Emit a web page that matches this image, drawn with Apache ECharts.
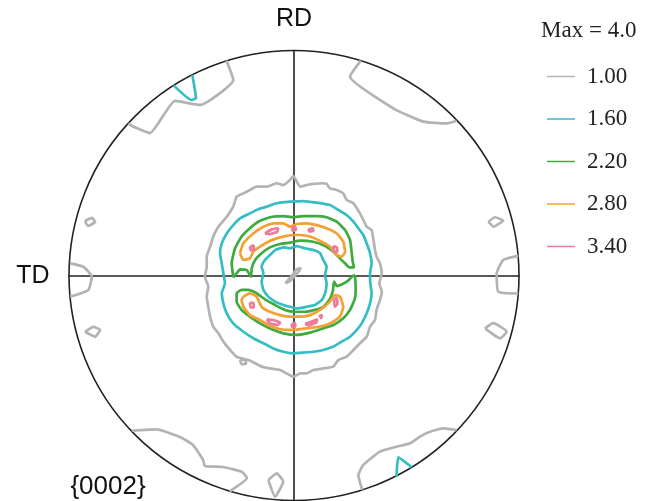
<!DOCTYPE html>
<html>
<head>
<meta charset="utf-8">
<script src="https://cdn.jsdelivr.net/npm/echarts@6/dist/echarts.min.js"></script>
<style>html,body{margin:0;padding:0;background:#fff}#c{width:655px;height:501px}</style>
</head>
<body>
<div id="c"></div>
<script>
// Pole figure {0002}; coordinates in projection units (circle radius = 100)
const levels = ['1.00', '1.60', '2.20', '2.80', '3.40'];
const maxLabel = 'Max = 4.0';
const figureLabel = '{0002}';
const axisNames = ['RD', 'TD'];

// level 1.00 (closed loops)
const g_center = [[-1.8,42.4],[-0.3,44.2],[0.9,42.4],[2.7,39.5],[5.6,40.2],[8.6,40.7],[12.3,41.0],[14.5,40.7],[16.0,38.7],[19.0,38.0],[21.9,36.5],[23.4,33.6],[26.4,32.1],[29.3,27.6],[30.8,24.7],[32.3,21.7],[34.5,20.2],[35.3,15.8],[36.0,11.3],[36.7,8.4],[38.2,5.4],[39.0,1.0],[37.9,-3.5],[39.0,-7.2],[38.2,-10.9],[36.7,-15.3],[36.0,-19.8],[33.8,-22.7],[32.3,-27.2],[29.3,-30.1],[26.4,-33.1],[23.4,-36.1],[19.7,-37.6],[17.5,-40.5],[13.0,-41.3],[8.6,-42.0],[5.6,-43.5],[2.7,-43.5],[-0.3,-45.0],[-3.3,-43.5],[-6.2,-42.0],[-10.7,-41.3],[-14.4,-40.5],[-17.3,-39.0],[-20.3,-37.6],[-25.5,-36.1],[-28.4,-33.1],[-31.4,-29.4],[-33.6,-25.7],[-35.9,-22.7],[-37.3,-18.3],[-38.1,-13.9],[-38.8,-9.4],[-38.1,-5.0],[-39.6,-0.5],[-38.8,3.9],[-38.8,8.4],[-37.3,12.8],[-35.9,17.3],[-33.6,21.7],[-29.9,26.1],[-27.0,30.6],[-25.5,35.0],[-22.5,36.5],[-19.6,38.0],[-16.6,39.5],[-12.1,39.5],[-7.7,41.0],[-4.7,40.2]];
const g_blob = [[-24.0,-37.6],[-21.8,-37.3],[-21.3,-39.1],[-23.3,-39.4]];
const g_slash = [[-3.8,-3.5],[-0.5,0.5],[1.0,2.6],[3.0,3.3],[2.2,2.0],[-1.5,-2.2]];
const g_d1 = [[86.4,23.9],[89.3,25.9],[93.0,24.4],[88.6,21.7]];
const g_d2 = [[84.9,-23.5],[88.6,-21.2],[94.5,-25.0],[91.6,-27.9]];
const g_d3 = [[-92.9,-25.0],[-89.2,-22.8],[-86.2,-24.2],[-88.4,-27.2]];
const g_d4 = [[-92.9,24.2],[-89.8,25.6],[-88.4,23.8],[-91.6,22.0]];
const g_d5 = [[-11.4,-90.9],[-7.7,-87.9],[-4.8,-91.6],[-8.4,-98.3]];
// level 1.00 (open arcs ending on the rim)
const g_tl = [[-30.0,95.4],[-27.0,86.9],[-41.8,75.8],[-52.9,77.6],[-64.0,63.3],[-72.0,66.4],[-73.6,67.6]];
const g_tr = [[29.7,95.5],[24.9,88.4],[44.1,74.3],[57.5,68.4],[67.9,67.6],[72.3,68.8]];
const g_r = [[99.7,8.7],[93.0,6.9],[90.1,1.0],[90.8,-7.2],[99.7,-8.0]];
const g_l = [[-99.6,5.4],[-93.6,3.9],[-89.9,-0.5],[-91.4,-6.4],[-99.5,-9.4]];
const g_bl = [[-72.1,-69.0],[-61.0,-68.4],[-50.7,-71.8],[-44.9,-75.3],[-40.4,-82.0],[-39.6,-84.7],[-31.6,-85.1],[-23.1,-87.3],[-20.9,-90.0],[-28.6,-95.9]];
const g_br = [[30.3,-95.3],[28.6,-88.7],[30.8,-84.2],[38.2,-78.3],[45.6,-76.1],[51.6,-74.6],[56.0,-71.6],[60.4,-69.4],[66.4,-67.9],[72.3,-68.7]];

// level 1.60
const c_outer = [[-12.1,30.6],[-7.7,32.1],[-1.8,32.8],[4.1,33.1],[10.1,32.4],[16.0,31.3],[19.7,29.1],[23.4,26.9],[26.4,23.9],[28.6,21.0],[30.8,18.0],[32.3,14.3],[33.8,9.9],[34.5,5.4],[33.8,1.0],[33.8,-2.0],[34.5,-7.9],[33.8,-12.4],[32.3,-16.8],[30.1,-21.3],[27.9,-24.2],[24.9,-27.2],[21.2,-29.4],[17.5,-31.6],[13.0,-33.1],[8.6,-33.9],[4.1,-34.3],[-0.3,-34.6],[-4.7,-33.9],[-9.2,-32.4],[-13.6,-30.1],[-18.1,-27.9],[-22.5,-25.0],[-27.0,-21.3],[-29.9,-16.8],[-31.4,-12.4],[-32.1,-7.9],[-30.7,-3.5],[-31.4,1.0],[-32.1,5.4],[-32.9,9.9],[-32.1,14.3],[-29.9,18.7],[-27.0,22.4],[-24.0,25.4],[-19.6,27.6],[-15.9,29.4]];
const c_inner = [[-8.4,11.3],[-4.7,12.5],[-1.8,12.1],[1.2,13.1],[4.9,12.1],[8.6,11.3],[11.6,9.9],[13.0,6.9],[14.5,3.9],[13.8,0.2],[14.5,-3.5],[13.8,-7.9],[12.3,-10.9],[9.3,-13.1],[5.6,-13.9],[1.2,-14.6],[-1.8,-13.9],[-4.7,-13.1],[-8.4,-11.6],[-11.4,-9.4],[-13.6,-6.4],[-14.4,-2.7],[-13.6,1.0],[-14.4,3.9],[-12.9,6.9],[-10.7,9.1]];
const c_tl = [[-53.5,84.5],[-45.5,78.0],[-43.6,78.8],[-45.2,89.2]];
const c_br = [[45.6,-89.4],[46.4,-80.8],[52.3,-85.2]];

// level 2.20
const gr_top = [[-27.0,-0.8],[-27.7,5.4],[-26.2,12.1],[-23.3,17.3],[-19.6,21.0],[-15.9,23.9],[-10.7,25.9],[-4.7,26.4],[-0.3,25.9],[4.1,26.4],[10.1,26.4],[14.5,25.9],[19.0,23.9],[22.7,20.2],[24.9,15.8],[25.6,10.6],[26.1,6.1],[26.7,3.6],[24.6,3.6],[22.7,5.4],[20.4,7.6],[17.5,10.6],[13.8,13.1],[8.6,15.0],[2.7,15.5],[-1.8,14.6],[-6.2,14.0],[-10.7,12.5],[-14.4,9.9],[-17.3,6.9],[-18.8,3.2],[-19.1,-0.5],[-21.0,2.4],[-24.0,2.7],[-25.5,1.0]];
const gr_bottom = [[27.1,0.2],[27.4,-5.0],[27.1,-10.1],[24.9,-15.3],[21.9,-19.0],[17.5,-22.0],[13.0,-23.5],[7.1,-25.4],[1.2,-26.4],[-4.7,-25.7],[-9.9,-23.9],[-15.1,-21.3],[-19.6,-18.3],[-23.3,-15.3],[-25.5,-11.6],[-25.5,-7.9],[-23.3,-6.4],[-20.3,-6.4],[-16.6,-7.9],[-12.9,-10.6],[-8.4,-13.1],[-4.0,-15.3],[0.4,-16.1],[4.9,-16.1],[9.3,-15.3],[13.0,-13.9],[15.7,-10.9],[17.2,-7.2],[17.8,-2.7],[19.0,-4.7],[21.6,-3.8],[24.1,-2.3],[26.1,-0.2]];

// level 2.80
const o_top = [[-24.0,9.9],[-22.5,14.3],[-18.1,18.7],[-13.6,21.7],[-9.2,23.2],[-4.7,23.2],[-1.8,21.7],[1.2,22.9],[5.6,23.2],[10.1,22.4],[14.5,21.0],[19.0,18.7],[21.9,15.0],[22.7,10.6],[21.2,8.4],[19.0,9.1],[16.0,12.8],[12.3,15.0],[7.1,17.3],[2.7,18.0],[-0.3,18.0],[-3.3,17.6],[-7.7,16.5],[-11.4,15.0],[-15.1,12.8],[-18.1,10.6],[-19.6,7.6],[-22.5,6.9]];
const o_bottom = [[-22.5,-9.4],[-19.6,-7.9],[-16.6,-9.4],[-14.4,-13.9],[-10.7,-16.1],[-6.2,-17.6],[-1.8,-18.3],[2.7,-18.3],[7.1,-17.6],[11.6,-15.3],[16.0,-11.6],[18.2,-8.7],[20.4,-9.4],[21.9,-13.9],[20.4,-18.3],[16.0,-21.3],[11.6,-22.7],[5.6,-23.5],[-0.3,-24.2],[-6.2,-23.9],[-11.4,-22.0],[-15.1,-19.8],[-19.6,-17.6],[-22.5,-13.9],[-23.3,-10.9]];

// level 3.40
const p_1 = [[-12.9,18.7],[-9.9,20.5],[-7.0,21.0],[-7.4,19.5],[-10.7,18.4]];
const p_2 = [[-19.6,12.7],[-18.1,13.3],[-17.8,11.5],[-19.3,11.3]];
const p_3 = [[-1.0,21.0],[0.4,21.7],[0.9,20.5],[-0.6,19.9]];
const p_4 = [[6.4,20.5],[8.3,21.0],[8.6,19.9],[6.8,19.5]];
const p_5 = [[17.5,13.1],[19.0,12.5],[19.3,10.6],[17.8,10.8]];
const p_6 = [[-19.6,-12.1],[-18.1,-12.1],[-17.8,-14.2],[-19.3,-14.2]];
const p_7 = [[-12.1,-19.5],[-9.2,-19.8],[-6.2,-21.0],[-7.4,-22.0],[-10.7,-21.3]];
const p_8 = [[-1.0,-21.5],[0.4,-21.2],[0.6,-22.7],[-0.9,-22.7]];
const p_9 = [[4.9,-21.5],[7.9,-20.5],[10.4,-19.5],[9.8,-21.0],[6.4,-22.2]];
const p_10 = [[17.8,-10.6],[19.0,-10.1],[19.3,-12.7],[18.1,-13.9]];
const p_11 = [[11.3,-17.6],[12.4,-17.9],[12.0,-18.9]];

const contours = [
  {level: 0, loops: [g_center, g_blob, g_slash, g_d1, g_d2, g_d3, g_d4, g_d5], arcs: [g_tl, g_tr, g_r, g_l, g_bl, g_br]},
  {level: 1, loops: [c_outer, c_inner], arcs: [c_tl, c_br]},
  {level: 2, loops: [gr_top, gr_bottom], arcs: []},
  {level: 3, loops: [o_top, o_bottom], arcs: []},
  {level: 4, loops: [p_1, p_2, p_3, p_4, p_5, p_6, p_7, p_8, p_9, p_10, p_11], arcs: []}
];

const colors = ['#b3b3b3', '#34bdc3', '#3eab3e', '#f4a033', '#ec7a9a'];

const series = [];
contours.forEach(c => {
  const name = levels[c.level];
  const color = colors[c.level];
  const add = (pts, closed) => series.push({
    name, type: 'line', data: closed ? pts.concat([pts[0]]) : pts,
    symbol: 'none', smooth: 0.15, silent: true, animation: false,
    lineStyle: {width: 2.7, color}, itemStyle: {color}, z: 3
  });
  c.loops.forEach(p => add(p, true));
  c.arcs.forEach(p => add(p, false));
});

const chart = echarts.init(document.getElementById('c'), null, {renderer: 'canvas'});
chart.setOption({
  animation: false,
  backgroundColor: '#fff',
  title: {
    text: maxLabel, left: 541, top: 19, padding: 0,
    textStyle: {fontFamily: 'Liberation Serif', fontSize: 23, fontWeight: 'normal', color: '#222'}
  },
  legend: {
    data: levels, orient: 'vertical', left: 547, top: 65, padding: 0,
    icon: 'rect', itemWidth: 28, itemHeight: 1.5, itemGap: 19.5, selectedMode: false,
    textStyle: {fontFamily: 'Liberation Serif', fontSize: 23, color: '#222', lineHeight: 22, padding: [0, 0, 0, 7]}
  },
  grid: {left: 69, top: 50.5, width: 450, height: 450, show: false},
  xAxis: {type: 'value', min: -100, max: 100, axisLine: {onZero: true, lineStyle: {color: '#222', width: 1.6}},
    axisTick: {show: false}, axisLabel: {show: false}, splitLine: {show: false}, z: 1},
  yAxis: {type: 'value', min: -100, max: 100, axisLine: {onZero: true, lineStyle: {color: '#222', width: 1.6}},
    axisTick: {show: false}, axisLabel: {show: false}, splitLine: {show: false}, z: 1},
  polar: {center: [294, 275.5], radius: 225},
  angleAxis: {type: 'value', min: 0, max: 360, axisLine: {lineStyle: {color: '#222', width: 1.6}},
    axisTick: {show: false}, axisLabel: {show: false}, splitLine: {show: false}},
  radiusAxis: {type: 'value', min: 0, max: 1, show: false},
  graphic: [
    {type: 'text', x: 294, y: 19, style: {text: axisNames[0], fontFamily: 'Liberation Sans', fontSize: 25, fill: '#111', textAlign: 'center', textVerticalAlign: 'middle'}},
    {type: 'text', x: 33, y: 276, style: {text: axisNames[1], fontFamily: 'Liberation Sans', fontSize: 25, fill: '#111', textAlign: 'center', textVerticalAlign: 'middle'}},
    {type: 'text', x: 108, y: 487, style: {text: figureLabel, fontFamily: 'Liberation Sans', fontSize: 26, fill: '#111', textAlign: 'center', textVerticalAlign: 'middle'}}
  ],
  series
});
</script>
</body>
</html>
